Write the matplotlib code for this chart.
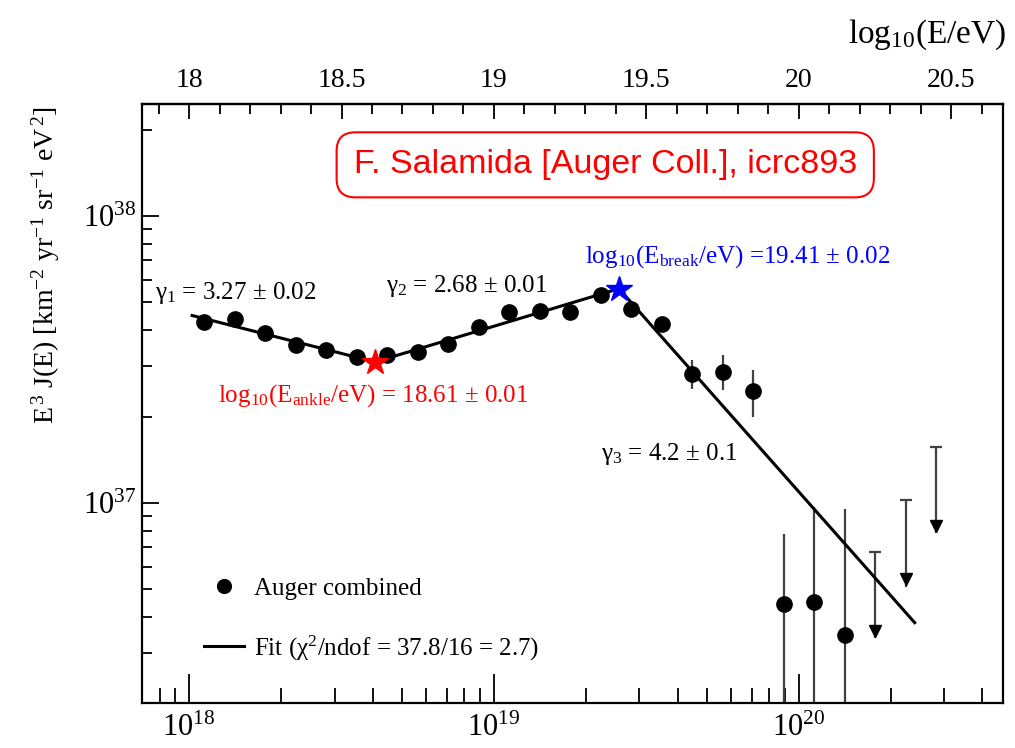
import numpy as np
import matplotlib
matplotlib.use("Agg")
import matplotlib.pyplot as plt
from matplotlib.ticker import LogLocator, FixedLocator, MultipleLocator, FormatStrFormatter, NullFormatter

plt.rcParams['font.family'] = ['Liberation Serif', 'DejaVu Serif']
plt.rcParams['mathtext.fontset'] = 'custom'
plt.rcParams['mathtext.rm'] = 'Liberation Serif'
plt.rcParams['mathtext.it'] = 'Liberation Serif:italic'
plt.rcParams['mathtext.bf'] = 'Liberation Serif:bold'

# Auger combined spectrum, log10(E/eV) bin centres and E^3 J(E) in units of 1e37
logE = [18.05, 18.15, 18.25, 18.35, 18.45, 18.55, 18.65, 18.75, 18.85, 18.95,
        19.05, 19.15, 19.25, 19.35, 19.45, 19.55, 19.65, 19.75, 19.85, 19.95,
        20.05, 20.15]
flux = [4.28, 4.38, 3.91, 3.56, 3.41, 3.23, 3.28, 3.36, 3.58, 4.10,
        4.63, 4.67, 4.63, 5.31, 4.74, 4.21, 2.81, 2.86, 2.45, 0.445,
        0.452, 0.347]
flux_lo = [4.20, 4.30, 3.85, 3.51, 3.37, 3.19, 3.24, 3.32, 3.54, 4.04,
           4.55, 4.57, 4.53, 5.18, 4.60, 4.05, 2.50, 2.48, 2.00, 0.10,
           0.10, 0.10]
flux_hi = [4.36, 4.46, 3.97, 3.61, 3.45, 3.27, 3.32, 3.40, 3.62, 4.16,
           4.71, 4.77, 4.73, 5.44, 4.88, 4.37, 3.15, 3.28, 2.90, 0.780,
           0.968, 0.953]

# upper limits
ul_logE = [20.25, 20.35, 20.45]
ul_flux = [0.675, 1.023, 1.567]

# broken power-law fit (knots)
fit_logE = [18.01, 18.61, 19.41, 20.38]
fit_flux = [4.50, 3.10, 5.58, 0.383]

ankle = (18.61, 3.10)
brk = (19.41, 5.58)

top_ticks = [18, 18.5, 19, 19.5, 20, 20.5]

E = 10**np.array(logE)
F = np.array(flux) * 1e37
Flo = np.array(flux_lo) * 1e37
Fhi = np.array(flux_hi) * 1e37

fig = plt.figure(figsize=(10.15, 7.48), dpi=100)
ax = fig.add_axes([0.140, 0.060, 0.848, 0.801])
ax.set_xscale('log')
ax.set_yscale('log')
ax.set_xlim(10**17.846, 10**20.669)
ax.set_ylim(10**36.303, 10**38.39)

# fit line
fit_line, = ax.plot(10**np.array(fit_logE), np.array(fit_flux) * 1e37,
                    color='black', lw=2.2, zorder=3)

# data with error bars
ax.vlines(E, Flo, Fhi, color='#404040', lw=1.6, zorder=2)
pts, = ax.plot(E, F, 'o', color='black', ms=11, zorder=4, linestyle='none')

# upper limits with down arrows
ulE = 10**np.array(ul_logE)
ulF = np.array(ul_flux) * 1e37
ax.vlines(ulE, ulF / 2.0, ulF, color='#404040', lw=1.6, zorder=2)
ax.plot(ulE, ulF, '_', color='#404040', ms=9, mew=1.6, zorder=2)
ax.plot(ulE, ulF / 2.0 * 1.06, 'v', color='black', ms=9, zorder=3)

# ankle and break stars
ax.plot(10**ankle[0], ankle[1] * 1e37, '*', color='red', ms=19, zorder=5)
ax.plot(10**brk[0], brk[1] * 1e37, '*', color='blue', ms=19, zorder=5)

# annotations
fs = 18
ax.text(10**17.888, 10**37.711, r'γ$_{1}$ = 3.27 ± 0.02', fontsize=fs,
        ha='left', va='baseline')
ax.text(10**18.645, 10**37.735, r'γ$_{2}$ = 2.68 ± 0.01', fontsize=fs,
        ha='left', va='baseline')
ax.text(10**19.352, 10**37.150, r'γ$_{3}$ = 4.2 ± 0.1', fontsize=fs,
        ha='left', va='baseline')
ax.text(10**18.095, 10**37.352, r'log$_{10}$(E$_{\mathrm{ankle}}$/eV) = 18.61 ± 0.01',
        fontsize=fs, color='red', ha='left', va='baseline')
ax.text(10**19.299, 10**37.836, r'log$_{10}$(E$_{\mathrm{break}}$/eV) =19.41 ± 0.02',
        fontsize=fs, color='blue', ha='left', va='baseline')

ax.text(10**19.365, 10**38.178, 'F. Salamida [Auger Coll.], icrc893',
        fontsize=24.5, color='red', family=['Liberation Sans', 'DejaVu Sans'],
        ha='center', va='center',
        bbox=dict(boxstyle='round,pad=0.5,rounding_size=0.55', fc='white',
                  ec='red', lw=1.5))

# legend
leg = ax.legend([pts, fit_line], ['Auger combined',
                                  r'Fit (χ$^{2}$/ndof = 37.8/16 = 2.7)'],
                loc='lower left', bbox_to_anchor=(0.046, 0.030), frameon=False,
                fontsize=fs, handlelength=1.6, handletextpad=0.4,
                labelspacing=1.35, markerscale=0.9)

# axes style
for s in ax.spines.values():
    s.set_linewidth(1.6)
ax.xaxis.set_major_locator(LogLocator(base=10, numticks=10))
ax.xaxis.set_minor_locator(LogLocator(base=10, subs=np.arange(2, 10), numticks=20))
ax.yaxis.set_major_locator(LogLocator(base=10, numticks=10))
ax.yaxis.set_minor_locator(LogLocator(base=10, subs=np.arange(2, 10), numticks=20))
ax.yaxis.set_minor_formatter(NullFormatter())
ax.xaxis.set_minor_formatter(NullFormatter())
ax.tick_params(axis='x', which='major', direction='in', length=21, width=1.3,
               labelsize=22, pad=8, top=False)
ax.tick_params(axis='x', which='minor', direction='in', length=11, width=1.3,
               top=False)
ax.tick_params(axis='y', which='major', direction='in', length=12, width=1.3,
               labelsize=22, pad=4, right=False)
ax.tick_params(axis='y', which='minor', direction='in', length=7, width=1.3,
               right=False)

# top axis in log10(E/eV)
top = ax.secondary_xaxis('top', functions=(np.log10, lambda v: 10**v))
top.xaxis.set_major_locator(FixedLocator(top_ticks))
top.xaxis.set_minor_locator(MultipleLocator(0.1))
top.xaxis.set_major_formatter(FormatStrFormatter('%g'))
top.xaxis.set_minor_formatter(NullFormatter())
top.tick_params(axis='x', which='major', direction='in', length=11, width=1.3,
                labelsize=20, pad=8)
top.tick_params(axis='x', which='minor', direction='in', length=7, width=1.3)
top.spines['top'].set_linewidth(1.6)
fig.text(0.992, 0.953, r'log$_{10}$(E/eV)', fontsize=24, ha='right',
         va='center')

fig.text(0.045, 0.858,
         r'E$^{\,3}$ J(E) [km$^{-2}$ yr$^{-1}$ sr$^{-1}$ eV$^{\,2}$]',
         fontsize=20, rotation=90, ha='center', va='top')

fig.savefig('out.png', dpi=100)
